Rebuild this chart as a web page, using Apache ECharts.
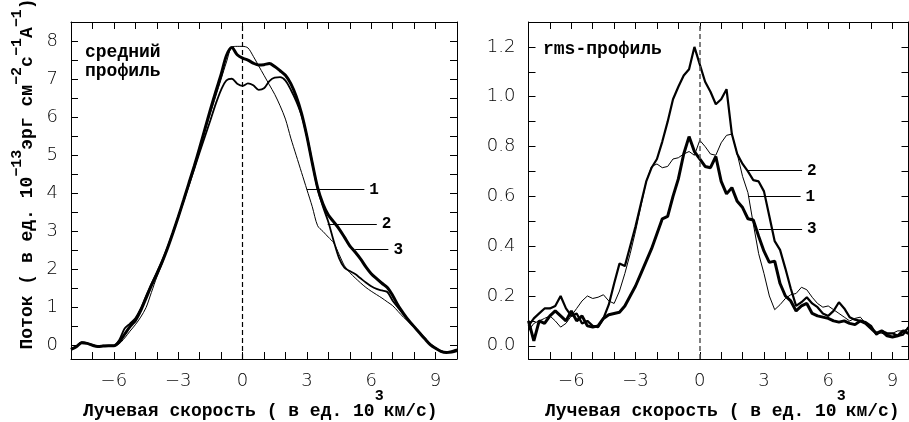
<!DOCTYPE html>
<html><head><meta charset="utf-8">
<script src="https://cdn.jsdelivr.net/npm/echarts@6/dist/echarts.min.js"></script>
<style>html,body{margin:0;padding:0;background:#fff}#c{width:909px;height:422px}</style>
</head><body><div id="c"></div>
<script>
// ---- data: mean profile (units of 10^3 km/s and 10^-13 erg cm^-2 s^-1 A^-1)
const meanVelocity = [
  -8,-7.75,-7.5,-7.25, -7,-6.75,-6.5,-6.25, -6,-5.75,-5.5,-5.25, -5,-4.75,-4.5,-4.25,
  -4,-3.75,-3.5,-3.25, -3,-2.75,-2.5,-2.25, -2,-1.75,-1.5,-1.25, -1,-0.75,-0.5,-0.25,
  0,0.25,0.5,0.75, 1,1.25,1.5,1.75, 2,2.25,2.5,2.75, 3,3.25,3.5,3.75,
  4,4.25,4.5,4.75, 5,5.25,5.5,5.75, 6,6.25,6.5,6.75, 7,7.25,7.5,7.75,
  8,8.25,8.5,8.75, 9,9.25,9.5,9.75, 10];
const meanCurve1 = [
  -0.08,-0.02,0.06,0.05, 0.01,-0.03,-0.02,-0.01, -0.01,0.05,0.2,0.38, 0.55,0.75,1.0,1.4,
  1.8,2.15,2.55,2.97, 3.4,3.85,4.3,4.75, 5.2,5.65,6.1,6.55, 7.0,7.45,7.84,7.86,
  7.86,7.82,7.6,7.35, 7.1,6.85,6.6,6.3, 5.95,5.45,5.0,4.55, 4.1,3.65,3.15,3.0,
  2.85,2.7,2.4,2.1, 1.92,1.78,1.65,1.53, 1.43,1.34,1.25,1.15, 1.05,0.9,0.75,0.62,
  0.5,0.35,0.2,0.06, -0.05,-0.13,-0.17,-0.15, -0.1];
const meanCurve2 = [
  -0.1,-0.01,0.09,0.07, 0.02,-0.02,0.0,0.0, 0.0,0.15,0.45,0.58, 0.72,0.97,1.3,1.62,
  1.92,2.23,2.58,2.97, 3.38,3.8,4.22,4.65, 5.08,5.5,5.92,6.35, 6.72,6.97,7.01,6.88,
  6.82,6.89,6.84,6.72, 6.76,6.95,7.04,7.05, 6.96,6.72,6.42,6.05, 5.5,4.8,4.12,3.65,
  3.25,2.75,2.3,2.05, 1.96,1.88,1.77,1.66, 1.56,1.49,1.45,1.41, 1.18,1.0,0.83,0.65,
  0.5,0.34,0.19,0.04, -0.07,-0.15,-0.17,-0.14, -0.1];
const meanCurve3 = [
  -0.1,-0.03,0.08,0.06, 0.01,-0.02,-0.01,0.0, 0.0,0.1,0.3,0.5, 0.66,0.92,1.25,1.58,
  1.88,2.2,2.56,2.96, 3.38,3.82,4.27,4.72, 5.2,5.7,6.2,6.67, 7.12,7.62,7.83,7.64,
  7.55,7.5,7.42,7.37, 7.38,7.41,7.33,7.22, 7.1,6.88,6.55,6.1, 5.5,4.8,4.15,3.72,
  3.43,3.25,3.07,2.85, 2.62,2.46,2.28,2.07, 1.89,1.76,1.64,1.53, 1.32,1.06,0.85,0.66,
  0.5,0.34,0.18,0.03, -0.07,-0.15,-0.18,-0.17, -0.13];

// ---- data: rms profile
const rmsVelocity = [
  -8,-7.75,-7.5,-7.25, -7,-6.75,-6.5,-6.25, -6,-5.75,-5.5,-5.25, -5,-4.75,-4.5,-4.25,
  -4,-3.75,-3.5,-3.25, -3,-2.75,-2.5,-2.25, -2,-1.75,-1.5,-1.25, -1,-0.75,-0.5,-0.25,
  0,0.25,0.5,0.75, 1,1.25,1.5,1.75, 2,2.25,2.5,2.75, 3,3.25,3.5,3.75,
  4,4.25,4.5,4.75, 5,5.25,5.5,5.75, 6,6.25,6.5,6.75, 7,7.25,7.5,7.75,
  8,8.25,8.5,8.75, 9,9.25,9.5,9.75];
const rmsCurve1 = [
  0.06,0.09,0.1,0.11, 0.12,0.1,0.075,0.09, 0.12,0.15,0.18,0.2, 0.19,0.195,0.205,0.18,
  0.17,0.22,0.29,0.37, 0.46,0.56,0.66,0.72, 0.73,0.715,0.72,0.75, 0.755,0.77,0.78,0.765,
  0.825,0.8,0.77,0.765, 0.815,0.845,0.85,0.77, 0.68,0.615,0.49,0.37, 0.29,0.2,0.145,0.165,
  0.19,0.205,0.21,0.235, 0.225,0.195,0.17,0.155, 0.16,0.145,0.13,0.115, 0.1,0.11,0.115,0.09,
  0.07,0.055,0.05,0.045, 0.05,0.06,0.06,0.07];
const rmsCurve2 = [
  0.08,0.11,0.13,0.15, 0.15,0.16,0.2,0.15, 0.12,0.13,0.09,0.1, 0.08,0.075,0.11,0.165,
  0.25,0.33,0.32,0.4, 0.48,0.57,0.66,0.715, 0.75,0.82,0.9,0.99, 1.04,1.085,1.11,1.2,
  1.13,1.06,1.02,0.97, 0.99,1.03,0.85,0.77, 0.73,0.7,0.665,0.66, 0.62,0.52,0.42,0.385,
  0.31,0.23,0.16,0.175, 0.195,0.17,0.155,0.13, 0.12,0.14,0.175,0.15, 0.115,0.105,0.1,0.095,
  0.08,0.045,0.06,0.05, 0.05,0.04,0.045,0.075];
const rmsCurve3 = [
  0.1,0.02,0.1,0.09, 0.12,0.14,0.12,0.1, 0.14,0.1,0.12,0.08, 0.075,0.08,0.11,0.125,
  0.13,0.135,0.16,0.2, 0.24,0.29,0.34,0.39, 0.45,0.51,0.52,0.6, 0.67,0.77,0.84,0.78,
  0.75,0.72,0.715,0.76, 0.66,0.61,0.635,0.58, 0.555,0.51,0.505,0.44, 0.38,0.335,0.34,0.25,
  0.2,0.18,0.14,0.16, 0.17,0.13,0.12,0.115, 0.11,0.1,0.095,0.1, 0.09,0.085,0.1,0.09,
  0.07,0.05,0.06,0.04, 0.035,0.04,0.06,0.05];

// ---- ticks and labels
const velocityTicks = [-8,-7,-6,-5,-4,-3,-2,-1,0,1,2,3,4,5,6,7,8,9,10];
const velocityLabels = [-6,-3,0,3,6,9];
const meanTicks = [0,0.5,1,1.5,2,2.5,3,3.5,4,4.5,5,5.5,6,6.5,7,7.5,8,8.5];
const meanLabels = [0,1,2,3,4,5,6,7,8];
const rmsTicks = [0,0.1,0.2,0.3,0.4,0.5,0.6,0.7,0.8,0.9,1.0,1.1,1.2,1.3];
const rmsLabels = [0,0.2,0.4,0.6,0.8,1.0,1.2];
const curveNames = ['1','2','3'];

// ---- annotation leader lines (data coordinates)
const meanLeaders = [[2.99,5.68,4.1],[3.97,6.26,3.19],[5.25,6.8,2.52]];
const rmsLeaders = [[2.29,4.71,0.599],[2.21,4.78,0.703],[2.76,4.78,0.469]];

const MONO = "'Liberation Mono', 'DejaVu Sans Mono', monospace";
const SANS = "'DejaVu Sans', sans-serif";
const tickStyle = {color:'#000', width:1};

function xAxes(gi, min, max){
  return [
    {gridIndex:gi, type:'value', min:min, max:max, position:'bottom',
     axisLine:{show:true, onZero:false, lineStyle:tickStyle},
     axisTick:{show:true, inside:true, length:7, customValues:velocityTicks, lineStyle:tickStyle},
     axisLabel:{show:true, customValues:velocityLabels, margin:13, color:'#000', fontFamily:SANS, fontSize:18, fontWeight:200,
       formatter:v=>String(v).replace('-', '\u2212')},
     splitLine:{show:false}},
    {gridIndex:gi, type:'value', min:min, max:max, position:'top',
     axisLine:{show:true, onZero:false, lineStyle:tickStyle},
     axisTick:{show:true, inside:true, length:7, customValues:velocityTicks, lineStyle:tickStyle},
     axisLabel:{show:false}, splitLine:{show:false}}
  ];
}
function yAxes(gi, min, max, ticks, labels, fmt){
  return [
    {gridIndex:gi, type:'value', min:min, max:max, position:'left',
     axisLine:{show:true, onZero:false, lineStyle:tickStyle},
     axisTick:{show:true, inside:true, length:7, customValues:ticks, lineStyle:tickStyle},
     axisLabel:{show:true, customValues:labels, margin:13, color:'#000', fontFamily:SANS, fontSize:18, fontWeight:200, formatter:fmt},
     splitLine:{show:false}},
    {gridIndex:gi, type:'value', min:min, max:max, position:'right',
     axisLine:{show:true, onZero:false, lineStyle:tickStyle},
     axisTick:{show:true, inside:true, length:7, customValues:ticks, lineStyle:tickStyle},
     axisLabel:{show:false}, splitLine:{show:false}}
  ];
}
function leaderData(leaders){
  return leaders.map((l,i)=>[
    {coord:[l[0], l[2]], lineStyle:{type:'solid', color:'#000', width:1},
     label:{show:true, position:'end', distance:5, formatter:curveNames[i], color:'#000',
            fontFamily:MONO, fontWeight:'bold', fontSize:16}},
    {coord:[l[1], l[2]]}
  ]);
}
function pairs(xs, ys){ return xs.map((v,i)=>[v, ys[i]]); }

const widths = [1, 1.8, 3];
const meanSeries = [meanCurve1, meanCurve2, meanCurve3].map((ys,i)=>({
  type:'line', xAxisIndex:0, yAxisIndex:0, data:pairs(meanVelocity, ys), showSymbol:false,
  smooth:0.3, lineStyle:{color:'#000', width:widths[i]}, silent:true
}));
const rmsWidths = [1, 2.2, 3];
const rmsSeries = [rmsCurve1, rmsCurve2, rmsCurve3].map((ys,i)=>({
  type:'line', xAxisIndex:2, yAxisIndex:2, data:pairs(rmsVelocity, ys), showSymbol:false,
  lineStyle:{color:'#000', width:rmsWidths[i]}, silent:true
}));
meanSeries[0].markLine = {silent:true, symbol:['none','none'], animation:false,
  data:[{xAxis:0, lineStyle:{type:[5,3], color:'#000', width:1.2}, label:{show:false}}].concat(leaderData(meanLeaders))};
rmsSeries[0].markLine = {silent:true, symbol:['none','none'], animation:false,
  data:[{xAxis:0, lineStyle:{type:[5,3], color:'#555', width:1.5}, label:{show:false}}].concat(leaderData(rmsLeaders))};

const xTitleRich = {
  a:{fontFamily:MONO, fontWeight:'bold', fontSize:18, color:'#000', padding:[13,0,0,0], verticalAlign:'bottom'},
  s:{fontFamily:MONO, fontWeight:'bold', fontSize:15, color:'#000', verticalAlign:'top'}
};
const xTitle = '{a|Лучевая скорость ( в ед. 10}{s|3}{a|км/с)}';
const yTitle = '{a|Поток ( в ед. 10}{s|\u221213}{a|эрг см}{s|\u22122}{a|с}{s|\u22121}{a|A}{s|\u22121}{a|)}';
const yTitleRich = {
  a:{fontFamily:MONO, fontWeight:'bold', fontSize:18, color:'#000', padding:[9,0,0,0], verticalAlign:'bottom'},
  s:{fontFamily:MONO, fontWeight:'bold', fontSize:15, color:'#000', verticalAlign:'top'}
};

const chart = echarts.init(document.getElementById('c'), null, {renderer:'canvas'});
chart.setOption({
  animation:false,
  backgroundColor:'#fff',
  grid:[
    {left:71, top:22, width:386, height:337},
    {left:528.5, top:22, width:380, height:337}
  ],
  xAxis: xAxes(0, -8, 10).concat(xAxes(1, -8, 9.75)),
  yAxis: yAxes(0, -0.35, 8.5, meanTicks, meanLabels, v=>String(v))
    .concat(yAxes(1, -0.053, 1.3, rmsTicks, rmsLabels, v=>Number(v).toFixed(1))),
  series: meanSeries.concat(rmsSeries),
  graphic:[
    {type:'text', left:83, top:389, style:{text:xTitle, rich:xTitleRich}},
    {type:'text', left:545, top:389, style:{text:xTitle, rich:xTitleRich}},
    {type:'text', x:23, y:174, rotation:Math.PI/2,
     style:{text:yTitle, rich:yTitleRich, align:'center', verticalAlign:'middle', textAlign:'center', textVerticalAlign:'middle'}},
    {type:'text', left:85, top:43, style:{text:'средний\nпрофиль', font:"bold 18px 'Liberation Mono'", lineHeight:19, fill:'#000'}},
    {type:'text', left:543, top:40, style:{text:'rms-профиль', font:"bold 18px 'Liberation Mono'", fill:'#000'}}
  ]
});
</script></body></html>
